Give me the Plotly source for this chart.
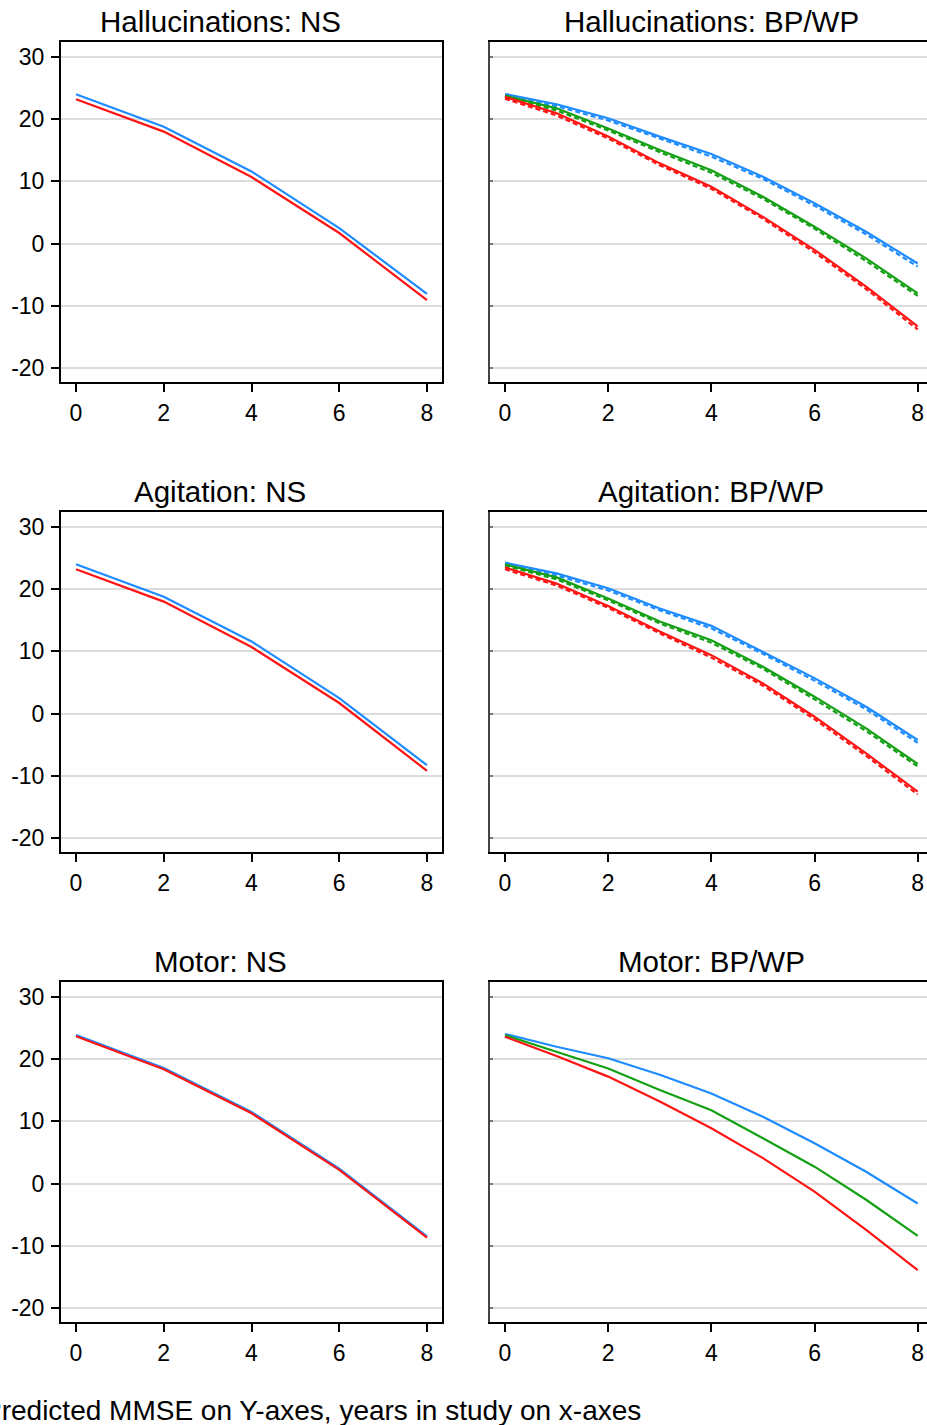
import plotly.graph_objects as go

W, H = 927, 1425

# ---------------- data ----------------
years_ns = [0, 2, 4, 6, 8]
years_bp = [0, 1, 2, 3, 4, 5, 6, 7, 8]

panel_titles = ["Hallucinations: NS", "Hallucinations: BP/WP",
                "Agitation: NS", "Agitation: BP/WP",
                "Motor: NS", "Motor: BP/WP"]

# NS panels (blue, red)
hall_ns_blue = [24.0, 18.8, 11.6, 2.5, -8.1]
hall_ns_red = [23.2, 18.0, 10.7, 1.7, -9.1]
agit_ns_blue = [24.0, 18.8, 11.6, 2.5, -8.3]
agit_ns_red = [23.2, 18.0, 10.7, 1.7, -9.2]
motor_ns_blue = [23.9, 18.6, 11.5, 2.4, -8.5]
motor_ns_red = [23.7, 18.4, 11.3, 2.2, -8.7]

# BP/WP panels: solid and dashed (blue, green, red)
hall_bp_blue = [24.05, 22.4, 20.15, 17.2, 14.4, 10.76, 6.48, 1.9, -3.2]
hall_bp_blue_d = [23.8, 22.1, 19.8, 16.9, 14.0, 10.4, 6.1, 1.5, -3.7]
hall_bp_green = [23.8, 21.75, 18.5, 15.05, 11.8, 7.54, 2.72, -2.37, -8.0]
hall_bp_green_d = [23.6, 21.4, 18.2, 14.7, 11.4, 7.2, 2.4, -2.8, -8.4]
hall_bp_red = [23.6, 20.95, 17.2, 12.9, 9.15, 4.3, -1.0, -6.9, -13.3]
hall_bp_red_d = [23.3, 20.6, 16.9, 12.6, 8.8, 4.0, -1.4, -7.3, -13.8]

agit_bp_blue = [24.26, 22.55, 20.15, 16.9, 14.1, 9.95, 5.7, 1.1, -4.25]
agit_bp_blue_d = [24.0, 22.2, 19.8, 16.6, 13.7, 9.6, 5.3, 0.7, -4.7]
agit_bp_green = [24.0, 21.9, 18.5, 14.8, 11.8, 7.54, 2.72, -2.37, -8.1]
agit_bp_green_d = [23.8, 21.6, 18.2, 14.5, 11.4, 7.2, 2.3, -2.8, -8.5]
agit_bp_red = [23.5, 20.9, 17.3, 13.2, 9.4, 4.85, -0.5, -6.4, -12.55]
agit_bp_red_d = [23.2, 20.6, 17.0, 12.9, 9.0, 4.5, -0.9, -6.8, -13.0]

motor_bp_blue = [24.05, 22.0, 20.15, 17.5, 14.5, 10.76, 6.48, 1.9, -3.2]
motor_bp_green = [23.85, 21.2, 18.5, 15.05, 11.8, 7.3, 2.72, -2.6, -8.4]
motor_bp_red = [23.6, 20.5, 17.2, 13.2, 8.9, 4.1, -1.3, -7.45, -13.9]

x_ticks = [0, 2, 4, 6, 8]
y_ticks = [-20, -10, 0, 10, 20, 30]
y_tick_text = ["-20", "-10", "0", "10", "20", "30"]

caption = "Predicted MMSE on Y-axes, years in study on x-axes"

# ---------------- styles ----------------
BLUE = "#1e8cff"
GREEN = "#14a014"
RED = "#ff1414"
FONT = "Liberation Sans, Arial, sans-serif"
TICK_SIZE = 23
TITLE_SIZE = 29.5

fig = go.Figure()


def add(ax, x, y, color, dash="solid"):
    fig.add_trace(go.Scatter(
        x=x, y=y, mode="lines", xaxis="x" + ax, yaxis="y" + ax,
        line=dict(color=color, width=2.2, dash=dash),
        showlegend=False, hoverinfo="skip"))


DASH = "5px,3px"
# row 1
add("", years_ns, hall_ns_blue, BLUE)
add("", years_ns, hall_ns_red, RED)
add("2", years_bp, hall_bp_blue_d, BLUE, DASH)
add("2", years_bp, hall_bp_green_d, GREEN, DASH)
add("2", years_bp, hall_bp_red_d, RED, DASH)
add("2", years_bp, hall_bp_blue, BLUE)
add("2", years_bp, hall_bp_green, GREEN)
add("2", years_bp, hall_bp_red, RED)
# row 2
add("3", years_ns, agit_ns_blue, BLUE)
add("3", years_ns, agit_ns_red, RED)
add("4", years_bp, agit_bp_blue_d, BLUE, DASH)
add("4", years_bp, agit_bp_green_d, GREEN, DASH)
add("4", years_bp, agit_bp_red_d, RED, DASH)
add("4", years_bp, agit_bp_blue, BLUE)
add("4", years_bp, agit_bp_green, GREEN)
add("4", years_bp, agit_bp_red, RED)
# row 3
add("5", years_ns, motor_ns_blue, BLUE)
add("5", years_ns, motor_ns_red, RED)
add("6", years_bp, motor_bp_blue, BLUE)
add("6", years_bp, motor_bp_green, GREEN)
add("6", years_bp, motor_bp_red, RED)

# ---------------- layout ----------------
row_tops = [42, 512, 982]
panel_h = 340
y_range = [-22.25, 32.41]
left_dom = [61 / W, 442 / W]
right_dom = [490 / W, 1.0]
left_range = [-0.342, 8.342]
right_range = [-0.291, 8.18]

layout = dict(
    width=W, height=H,
    margin=dict(l=0, r=0, t=0, b=0),
    paper_bgcolor="white", plot_bgcolor="white",
    font=dict(family=FONT, color="black", size=TICK_SIZE),
    showlegend=False,
)

annotations = []
for r, top in enumerate(row_tops):
    ydom = [1 - (top + panel_h) / H, 1 - top / H]
    for c in range(2):
        idx = r * 2 + c + 1
        xname = "xaxis" if idx == 1 else f"xaxis{idx}"
        yname = "yaxis" if idx == 1 else f"yaxis{idx}"
        anchor_x = "x" if idx == 1 else f"x{idx}"
        anchor_y = "y" if idx == 1 else f"y{idx}"
        left = c == 0
        layout[xname] = dict(
            domain=left_dom if left else right_dom,
            range=left_range if left else right_range,
            anchor=anchor_y,
            tickmode="array", tickvals=x_ticks,
            ticks="outside", ticklen=8, tickwidth=2, tickcolor="black",
            ticklabelstandoff=1, ticklabeloverflow="allow",
            tickfont=dict(size=TICK_SIZE, family=FONT, color="black"),
            showline=True, linecolor="black", linewidth=2, mirror=True,
            showgrid=False, zeroline=False, fixedrange=True,
        )
        layout[yname] = dict(
            domain=ydom, range=y_range, anchor=anchor_x,
            tickmode="array", tickvals=y_ticks, ticktext=y_tick_text,
            showticklabels=left,
            ticks="outside" if left else "inside",
            ticklen=8 if left else 3, tickwidth=2,
            tickcolor="black" if left else "#777777",
            ticklabelstandoff=2,
            tickfont=dict(size=TICK_SIZE, family=FONT, color="black"),
            showline=True, linecolor="black" if left else "#444444",
            linewidth=2, mirror=left,
            showgrid=True, gridcolor="#dcdcdc", gridwidth=2,
            zeroline=False, fixedrange=True,
        )
        cx = 220 / W if left else 711 / W
        annotations.append(dict(
            text=panel_titles[idx - 1], xref="paper", yref="paper",
            x=cx, y=1 - (top - 21) / H, xanchor="center", yanchor="middle",
            showarrow=False, font=dict(size=TITLE_SIZE, family=FONT, color="black")))

annotations.append(dict(
    text=caption, xref="paper", yref="paper",
    x=-18.7 / W, y=1 - 1410 / H, xanchor="left", yanchor="middle",
    showarrow=False, font=dict(size=28, family=FONT, color="black")))

layout["annotations"] = annotations
fig.update_layout(**layout)

fig.write_html(
    "out.html",
    config=dict(displayModeBar=False),
    post_script="document.body.style.margin='0px';document.body.style.padding='0px';",
)
